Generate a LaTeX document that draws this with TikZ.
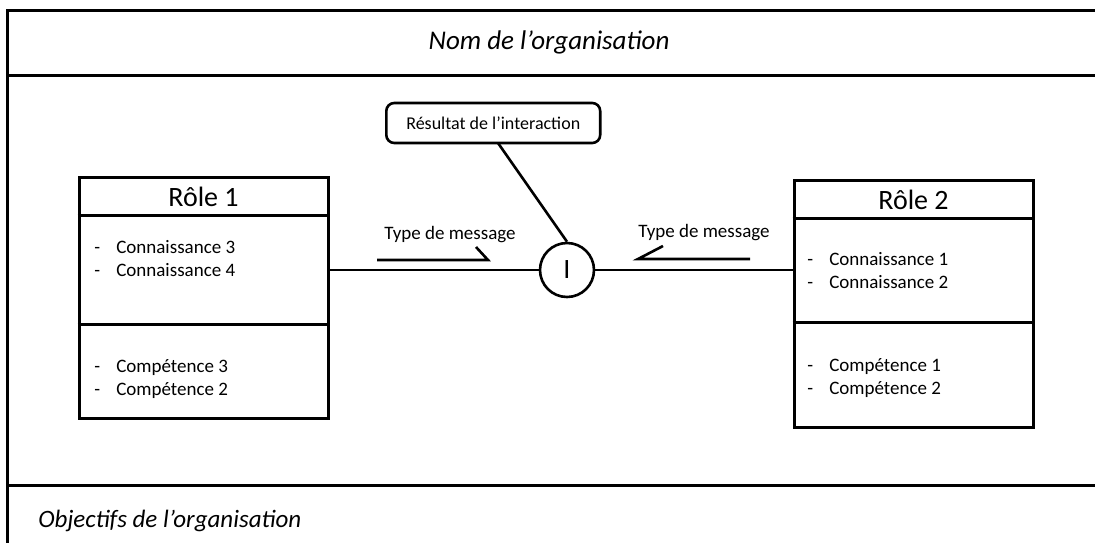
\documentclass[tikz,border=0pt]{standalone}
\usepackage{fontspec}
\setmainfont{Carlito}
\usetikzlibrary{calc}
\begin{document}
\begin{tikzpicture}[x=1pt,y=-1pt,line width=2.6pt,
  rolebox/.style={draw,line width=3pt,inner sep=0pt},
  roletitle/.style={font=\fontsize{28}{32}\selectfont,inner sep=0pt},
  item/.style={font=\fontsize{19}{23}\selectfont,inner sep=0pt,anchor=base west},
  msg/.style={font=\fontsize{19}{23}\selectfont,inner sep=0pt},
  resbox/.style={draw,rounded corners=8pt,font=\fontsize{18}{22}\selectfont,inner xsep=20pt,inner ysep=0pt,minimum height=40pt,anchor=west},
  inter/.style={draw,circle,minimum size=54pt,inner sep=0pt,font=\fontsize{28}{32}\selectfont},
  orgtext/.style={font=\fontsize{27}{31}\selectfont\itshape,inner sep=0pt}]
\useasboundingbox (0,0) rectangle (1095,542);
\fill[white] (0,0) rectangle (1095,542);
\begin{scope}
\clip (0,0) rectangle (1095,542);
\draw[line width=3pt] (7,560) -- (7,10) -- (1110,10);
\draw[line width=3pt] (7,75) -- (1110,75);
\draw[line width=3pt] (7,485) -- (1110,485);
\end{scope}
\node[orgtext] (nom) at (549,42) {Nom de l’organisation};
\node[orgtext,font=\fontsize{25}{29}\selectfont\itshape,anchor=west] (obj) at (37,521) {Objectifs de l’organisation};
% Role 1
\node[rolebox,minimum width=249pt,minimum height=241pt] (r1) at (203.5,297.5) {};
\draw[line width=3pt] (r1.west |- 0,215) coordinate (r1h) -- (r1h -| r1.east);
\draw[line width=3pt] (r1.west |- 0,324) coordinate (r1d) -- (r1d -| r1.east);
\node[roletitle] (r1t) at (203.5,197) {Rôle 1};
\node[item] (r1k1) at (93,253) {\makebox[22pt][l]{-}Connaissance 3};
\node[item] (r1k2) at (93,276) {\makebox[22pt][l]{-}Connaissance 4};
\node[item] (r1c1) at (93,372) {\makebox[22pt][l]{-}Compétence 3};
\node[item] (r1c2) at (93,395) {\makebox[22pt][l]{-}Compétence 2};
% Role 2
\node[rolebox,minimum width=239pt,minimum height=247pt] (r2) at (913.5,303.5) {};
\draw[line width=3pt] (r2.west |- 0,218) coordinate (r2h) -- (r2h -| r2.east);
\draw[line width=3pt] (r2.west |- 0,322) coordinate (r2d) -- (r2d -| r2.east);
\node[roletitle] (r2t) at (913.5,200) {Rôle 2};
\node[item] (r2k1) at (806,265) {\makebox[22pt][l]{-}Connaissance 1};
\node[item] (r2k2) at (806,288) {\makebox[22pt][l]{-}Connaissance 2};
\node[item] (r2c1) at (806,371) {\makebox[22pt][l]{-}Compétence 1};
\node[item] (r2c2) at (806,394) {\makebox[22pt][l]{-}Compétence 2};
% Interaction
\node[inter] (i) at (567,270) {I};
\draw (i.west) -- (i.west -| r1.east);
\draw (i.east) -- (i.east -| r2.west);
\node[resbox] (res) at (385,123) {Résultat de l’interaction};
\coordinate (rl) at (498,143);
\draw (rl) -- (i.north);
% message arrows
\node[msg] (m1) at (450,235) {Type de message};
\node[msg] (m2) at (704,233) {Type de message};
\coordinate (a1s) at (377,260);
\coordinate (a1t) at (488,260);
\coordinate (a1b) at (476,247);
\draw (a1s) -- (a1t) -- (a1b);
\coordinate (a2s) at (750,259);
\coordinate (a2t) at (638,259);
\coordinate (a2b) at (663,246);
\draw (a2s) -- (a2t) -- (a2b);
\end{tikzpicture}
\end{document}
